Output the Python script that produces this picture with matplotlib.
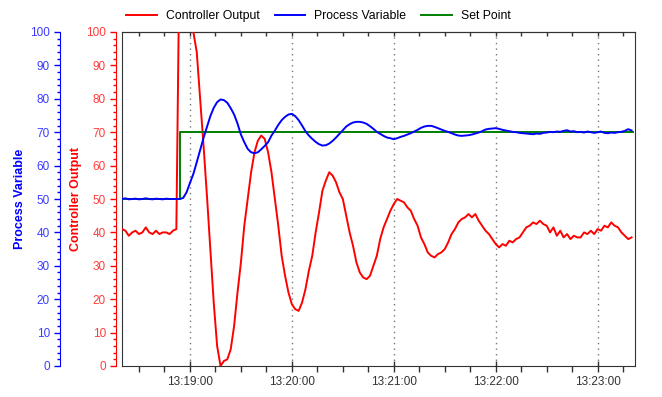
import numpy as np
import matplotlib
matplotlib.use("Agg")
import matplotlib.pyplot as plt
import matplotlib.dates as mdates
from matplotlib.ticker import MultipleLocator

plt.rcParams["font.family"] = ["Liberation Sans", "DejaVu Sans"]

# amostras a cada 2 s a partir de 13:18:20
inicio = np.datetime64("2024-01-01T13:18:20")
passo_s = 2

saida_controlador = [
    41, 40.5, 39, 40, 40.5, 39.5, 40, 41.5, 40, 39.5,
    40.5, 39.5, 40, 40, 39.5, 40.5, 41, 130, 135, 125,
    112, 100, 94, 80, 66, 51, 35, 19, 6, 0,
    1.5, 2, 5, 12, 22, 31, 42, 50, 58, 64,
    67.5, 69, 68, 64, 58, 50, 42, 33, 27, 22,
    18.5, 17, 16.5, 19, 23, 28.5, 33, 40, 46, 52.5,
    55.5, 58, 57, 55, 52, 50, 45, 40, 36, 31,
    28, 26.5, 26, 27, 30, 33, 38, 41.5, 44, 46.5,
    48.5, 50, 49.5, 49, 47.5, 46.5, 44, 42, 38.5, 36.5,
    34, 33, 32.5, 33.5, 34, 35, 37, 39.5, 41, 43,
    44, 44.5, 45.5, 44.5, 45.5, 43.5, 42, 40.5, 39.5, 38,
    36.5, 35.5, 36.5, 36, 37.5, 37, 38, 38.5, 40, 41.5,
    42, 43, 42.5, 43.5, 42.5, 42, 40, 41.5, 39, 40.5,
    38.5, 39.5, 38, 39, 38.5, 38.5, 40, 39.5, 40.5, 39.5,
    41, 40.5, 42, 41.5, 43, 42, 41.5, 40, 39, 38,
    38.5,
]

variavel_processo = [
    50, 50.2, 49.9, 50, 50.1, 49.9, 50, 50.2, 50, 49.9,
    50.1, 50, 49.9, 50.1, 50, 50, 50, 50, 50.3, 52,
    54.8, 57.5, 61, 64.7, 68.3, 71.6, 74.8, 77.3, 79, 79.8,
    79.6, 78.8, 77.2, 75.3, 72.6, 69.3, 67, 65, 64, 63.7,
    64, 64.9, 65.9, 67, 69, 70.5, 72.2, 73.6, 74.6, 75.3,
    75.5, 74.8, 73.6, 72, 70.3, 69, 68, 67.1, 66.4, 66,
    66.1, 66.6, 67.4, 68.4, 69.5, 70.6, 71.7, 72.4, 72.9, 73.1,
    73.1, 72.9, 72.5, 71.8, 71, 70.1, 69.5, 68.9, 68.4, 68.2,
    67.9, 68.2, 68.6, 68.9, 69.3, 69.7, 70.2, 70.7, 71.3, 71.7,
    71.9, 71.9, 71.6, 71.2, 70.8, 70.4, 70.1, 69.7, 69.3, 69,
    68.9, 69, 69.1, 69.3, 69.6, 69.9, 70.3, 70.8, 71, 71.1,
    71.2, 71, 70.7, 70.5, 70.3, 70.1, 70, 69.8, 69.7, 69.6,
    69.5, 69.4, 69.6, 69.5, 69.8, 69.9, 70.1, 70, 70.2, 70.1,
    70.4, 70.6, 70.2, 70.3, 70, 70.1, 69.9, 70.2, 70, 69.8,
    70, 70.2, 69.8, 69.7, 69.9, 69.8, 70, 70.1, 70.4, 70.9,
    70.5,
]

# set point: degrau de 50 para 70
sp_tempos_s = [0, 34, 34, 301]
sp_valores = [50, 50, 70, 70]

VERMELHO = "#ff0000"
AZUL = "#0000ff"
VERDE = "#008000"
PX = 72 / 100  # pontos por pixel a 100 dpi

tempos = inicio + (np.arange(len(saida_controlador)) * passo_s).astype("timedelta64[s]")
sp_tempos = inicio + np.array(sp_tempos_s).astype("timedelta64[s]")

fig = plt.figure(figsize=(6.62, 3.97), dpi=100)
ax = fig.add_axes([122 / 662, 31 / 397, 513 / 662, 334 / 397])
ax_co = ax.twinx()
ax_pv = ax.twinx()

for a in (ax, ax_co, ax_pv):
    a.set_ylim(0, 100)
    a.set_xlim(inicio, inicio + np.timedelta64(302, "s"))

# frame principal
ax.tick_params(axis="y", left=False, right=False, labelleft=False)
for s in ax.spines.values():
    s.set_color("#333333")
ax.xaxis.set_major_locator(mdates.MinuteLocator())
ax.xaxis.set_minor_locator(mdates.SecondLocator(bysecond=[15, 30, 45]))
ax.xaxis.set_major_formatter(mdates.DateFormatter("%H:%M:%S"))
ax.tick_params(axis="x", which="major", direction="inout", length=11 * PX, width=1,
               color="#333333", labelsize=8.5, labelcolor="#333333", pad=3)
ax.tick_params(axis="x", which="minor", direction="out", length=6 * PX, width=1,
               color="#333333")
ax.grid(axis="x", which="major", color="#777777", linestyle=(0, (1, 3)), linewidth=1)

# marcas pequenas para dentro no topo
topo = ax.secondary_xaxis("top")
topo.xaxis.set_major_locator(mdates.MinuteLocator())
topo.xaxis.set_minor_locator(mdates.SecondLocator(bysecond=[15, 30, 45]))
topo.tick_params(which="both", direction="in", length=4 * PX, width=1,
                 color="#333333", labeltop=False)
topo.spines["top"].set_color("#333333")


def eixo_esquerdo(a, cor, cor_rotulo, deslocamento_px, rotulo, x_rotulo):
    for nome, s in a.spines.items():
        s.set_visible(nome == "left")
    a.spines["left"].set_position(("outward", deslocamento_px * PX))
    a.spines["left"].set_color(cor)
    a.yaxis.set_ticks_position("left")
    a.yaxis.set_label_position("left")
    a.yaxis.set_major_locator(MultipleLocator(10))
    a.yaxis.set_minor_locator(MultipleLocator(2))
    a.tick_params(axis="y", which="major", length=6 * PX, width=1, color=cor,
                  labelcolor=cor_rotulo, labelsize=8.5, pad=4 * PX)
    a.tick_params(axis="y", which="minor", length=3 * PX, width=1, color=cor)
    a.set_ylabel(rotulo, color=cor, fontsize=9, fontweight="bold")
    a.yaxis.set_label_coords(x_rotulo, 0.5)


eixo_esquerdo(ax_co, VERMELHO, "#ff3c3c", 6, "Controller Output", -0.078)
eixo_esquerdo(ax_pv, AZUL, "#3c3cff", 62, "Process Variable", -0.187)

l_co, = ax_co.plot(tempos, saida_controlador, color=VERMELHO, lw=1.4,
                   label="Controller Output")
l_sp, = ax_pv.plot(sp_tempos, sp_valores, color=VERDE, lw=1.4, label="Set Point")
l_pv, = ax_pv.plot(tempos, variavel_processo, color=AZUL, lw=1.4,
                   label="Process Variable")

fig.legend([l_co, l_pv, l_sp], ["Controller Output", "Process Variable", "Set Point"],
           loc="center", bbox_to_anchor=(0.481, 0.96), ncol=3, frameon=False,
           fontsize=8.8, handlelength=2.5, handletextpad=0.75, columnspacing=1.2)

fig.savefig("out.png", dpi=100)
